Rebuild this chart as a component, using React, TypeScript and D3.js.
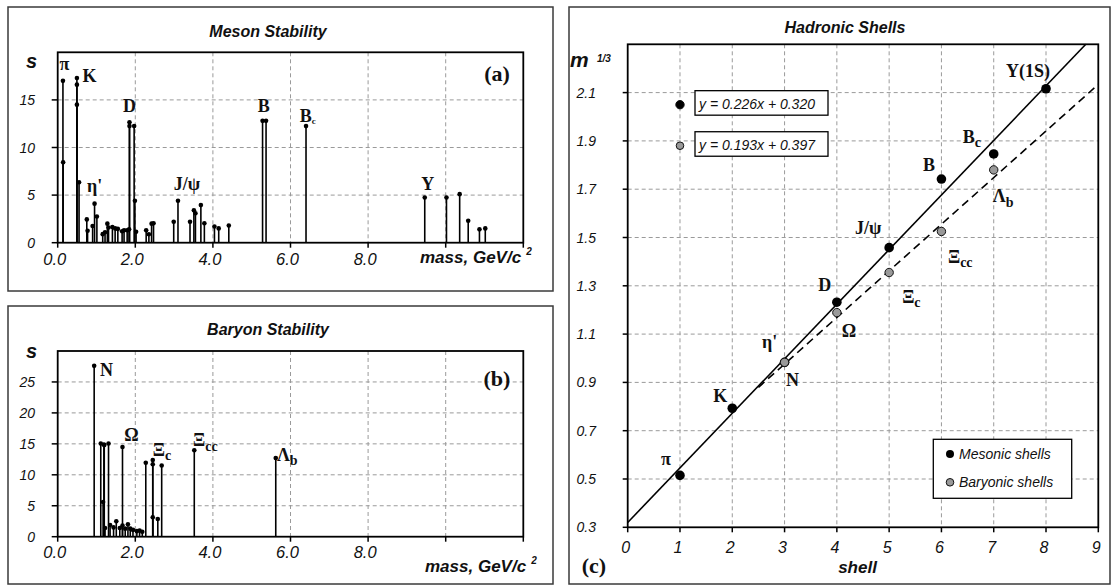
import React from "react";
import * as d3 from "d3";

// ---------- DATA ----------
// Panel (a): meson stability s vs mass (GeV/c^2)
const mesonMass = [0.135, 0.14, 0.495, 0.495, 0.495, 0.55, 0.75, 0.77, 0.9, 0.95, 1.01, 1.16, 1.22, 1.28, 1.31, 1.41, 1.48, 1.55, 1.66, 1.71, 1.79, 1.84, 1.85, 1.85, 1.97, 1.99, 2.02, 2.28, 2.35, 2.42, 2.47, 2.99, 3.1, 3.41, 3.51, 3.55, 3.69, 3.78, 4.04, 4.15, 4.41, 5.28, 5.37, 6.4, 9.46, 10.02, 10.36, 10.58, 10.87, 11.02];
const mesonS = [17.0, 8.45, 17.3, 16.6, 14.5, 6.35, 2.45, 1.25, 1.75, 4.1, 2.75, 0.9, 1.1, 2.0, 1.6, 1.65, 1.5, 1.45, 1.2, 1.3, 1.3, 1.4, 12.65, 12.25, 12.25, 4.4, 1.15, 1.3, 0.88, 2.0, 2.05, 2.2, 4.4, 2.2, 3.4, 3.1, 3.95, 2.05, 1.7, 1.5, 1.8, 12.8, 12.8, 12.25, 4.75, 4.75, 5.1, 2.3, 1.4, 1.5];

// Panel (b): baryon stability s vs mass
const baryonMass = [0.94, 1.11, 1.17, 1.19, 1.2, 1.31, 1.67, 1.22, 1.35, 1.44, 1.51, 1.6, 1.67, 1.74, 1.81, 1.87, 1.94, 2.04, 2.11, 2.18, 2.27, 2.45, 2.45, 2.45, 2.58, 2.68, 3.52, 5.62];
const baryonS = [27.6, 15.05, 5.6, 14.9, 14.8, 15.05, 14.5, 1.4, 1.9, 1.5, 2.5, 1.4, 1.8, 1.3, 2.0, 1.3, 1.1, 0.9, 1.0, 0.8, 11.95, 12.4, 11.7, 3.15, 2.87, 11.5, 13.96, 12.7];

// Panel (c): hadronic shells
const mesonShell = [1, 2, 3, 4, 5, 6, 7, 8];
const mesonM13 = [0.515, 0.793, 0.983, 1.232, 1.458, 1.742, 1.846, 2.116];
const baryonShell = [3, 4, 5, 6, 7];
const baryonM13 = [0.983, 1.189, 1.355, 1.525, 1.78];
const fitSlope = [0.226, 0.193];
const fitIntercept = [0.32, 0.397];
const fitLabels = ["y = 0.226x + 0.320", "y = 0.193x + 0.397"];

// Tick values
const stemXTicks = [0, 2, 4, 6, 8, 10, 12];
const stemXLabels = ["0.0", "2.0", "4.0", "6.0", "8.0"];
const aYTicks = [0, 5, 10, 15];
const bYTicks = [0, 5, 10, 15, 20, 25];
const cXTicks = [0, 1, 2, 3, 4, 5, 6, 7, 8, 9];
const cYTicks = [0.3, 0.5, 0.7, 0.9, 1.1, 1.3, 1.5, 1.7, 1.9, 2.1];

// Annotations (data coordinates)
const aLabels = [
  { t: "π", sub: "", m: 0.175, s: 18.14, a: "middle" },
  { t: "K", sub: "", m: 0.82, s: 16.9, a: "middle" },
  { t: "D", sub: "", m: 1.85, s: 13.76, a: "middle" },
  { t: "η'", sub: "", m: 0.95, s: 5.33, a: "middle" },
  { t: "J/ψ", sub: "", m: 3.33, s: 5.5, a: "middle" },
  { t: "B", sub: "", m: 5.31, s: 13.76, a: "middle" },
  { t: "B", sub: "c", m: 6.24, s: 12.7, a: "start" },
  { t: "Y", sub: "", m: 9.54, s: 5.54, a: "middle" },
];
const bLabels = [
  { t: "N", sub: "", m: 1.09, s: 25.9, a: "start" },
  { t: "Ω", sub: "", m: 1.9, s: 15.4, a: "middle" },
  { t: "Ξ", sub: "c", m: 2.45, s: 13.0, a: "start" },
  { t: "Ξ", sub: "cc", m: 3.49, s: 14.6, a: "start" },
  { t: "Λ", sub: "b", m: 5.65, s: 12.3, a: "start" },
];
// Panel (c) point labels: shell, value, and pixel offset
const cLabels = [
  { t: "π", sub: "", x: 1, v: 0.515, dx: -14, dy: -10, a: "middle" },
  { t: "K", sub: "", x: 2, v: 0.793, dx: -12, dy: -6, a: "middle" },
  { t: "η'", sub: "", x: 3, v: 0.983, dx: -15, dy: -14, a: "middle" },
  { t: "N", sub: "", x: 3, v: 0.983, dx: 8, dy: 24, a: "middle" },
  { t: "D", sub: "", x: 4, v: 1.232, dx: -12, dy: -11, a: "middle" },
  { t: "Ω", sub: "", x: 4, v: 1.189, dx: 12, dy: 24, a: "middle" },
  { t: "J/ψ", sub: "", x: 5, v: 1.458, dx: -21, dy: -14, a: "middle" },
  { t: "Ξ", sub: "c", x: 5, v: 1.355, dx: 13, dy: 30, a: "start" },
  { t: "B", sub: "", x: 6, v: 1.742, dx: -12.5, dy: -8, a: "middle" },
  { t: "Ξ", sub: "cc", x: 6, v: 1.525, dx: 6.5, dy: 31.5, a: "start" },
  { t: "B", sub: "c", x: 7, v: 1.846, dx: -31, dy: -11, a: "start" },
  { t: "Λ", sub: "b", x: 7, v: 1.78, dx: -1, dy: 32.5, a: "start" },
  { t: "Y(1S)", sub: "", x: 8, v: 2.116, dx: -18, dy: -12, a: "middle" },
];

// ---------- STYLE ----------
const SANS = "Arial, 'Liberation Sans', Helvetica, sans-serif";
const SERIF = "'Times New Roman', 'Liberation Serif', Times, serif";
const GRID = "#9a9a9a";
const DASH = "4,3";
const FRAME = "#3a3a3a";

type Lbl = { t: string; sub: string; a: string };

function SymLabel({ l, x, y, size, subSize }: { l: Lbl; x: number; y: number; size: number; subSize: number }) {
  return (
    <text x={x} y={y} textAnchor={l.a as any} fontFamily={SERIF} fontWeight="bold" fontSize={size} fill="#111">
      <tspan>{l.t}</tspan>
      {l.sub ? (
        <tspan dy={subSize * 0.3} fontSize={subSize}>
          {l.sub}
        </tspan>
      ) : null}
    </text>
  );
}

function StemPanel(props: {
  box: [number, number, number, number];
  yTop: number;
  yBottom: number;
  yMax: number;
  yTicks: number[];
  masses: number[];
  values: number[];
  title: string;
  titleY: number;
  sY: number;
  tag: string;
  tagY: number;
  tickLabelY: number;
  massX: number;
  massY: number;
  labels: (Lbl & { m: number; s: number })[];
}) {
  const { box, yTop, yBottom, yMax, yTicks, masses, values } = props;
  const x = d3.scaleLinear().domain([0, 12]).range([57.7, 523.3]);
  const y = d3.scaleLinear().domain([0, yMax]).range([yBottom, yTop]);
  const [bx, by, bw, bh] = box;
  const idx = d3.range(masses.length);
  return (
    <g>
      <rect x={bx} y={by} width={bw} height={bh} fill="white" stroke={FRAME} strokeWidth={1.5} />
      <text x={268} y={props.titleY} textAnchor="middle" fontFamily={SANS} fontWeight="bold" fontStyle="italic" fontSize={16} fill="#111">
        {props.title}
      </text>
      {/* grid */}
      {[2, 4, 6, 8, 10].map((v) => (
        <line key={"gx" + v} x1={x(v)} x2={x(v)} y1={yTop} y2={yBottom} stroke={GRID} strokeDasharray={DASH} strokeWidth={1} />
      ))}
      {yTicks.filter((v) => v > 0).map((v) => (
        <line key={"gy" + v} x1={x(0)} x2={x(12)} y1={y(v)} y2={y(v)} stroke={GRID} strokeDasharray={DASH} strokeWidth={1} />
      ))}
      {/* stems */}
      {idx.map((i) => (
        <line key={"st" + i} x1={x(masses[i])} x2={x(masses[i])} y1={y(0)} y2={y(values[i])} stroke="#000" strokeWidth={1.6} />
      ))}
      {idx.map((i) => (
        <circle key={"dt" + i} cx={x(masses[i])} cy={y(values[i])} r={2.3} fill="#000" />
      ))}
      {/* frame */}
      <rect x={x(0)} y={yTop} width={x(12) - x(0)} height={yBottom - yTop} fill="none" stroke="#000" strokeWidth={1.8} />
      {/* ticks */}
      {yTicks.map((v) => (
        <g key={"ty" + v}>
          <line x1={x(0) - 6} x2={x(0)} y1={y(v)} y2={y(v)} stroke="#000" strokeWidth={1.5} />
          <text x={35} y={y(v)} dy="0.36em" textAnchor="end" fontFamily={SANS} fontStyle="italic" fontSize={14} fill="#111">
            {v}
          </text>
        </g>
      ))}
      {stemXTicks.map((v) => (
        <line key={"tx" + v} x1={x(v)} x2={x(v)} y1={yBottom} y2={yBottom + 5} stroke="#000" strokeWidth={1.5} />
      ))}
      {stemXLabels.map((s, i) => (
        <text key={"lx" + i} x={x(stemXTicks[i]) - 3} y={props.tickLabelY} textAnchor="middle" fontFamily={SANS} fontStyle="italic" fontSize={16.5} fill="#111">
          {s}
        </text>
      ))}
      <text x={props.massX} y={props.massY} fontFamily={SANS} fontWeight="bold" fontStyle="italic" fontSize={17} fill="#111">
        mass, GeV/c
        <tspan dx={5} dy={-8} fontSize={10}>
          2
        </tspan>
      </text>
      <text x={26} y={props.sY} fontFamily={SANS} fontWeight="bold" fontStyle="italic" fontSize={20} fill="#111">
        s
      </text>
      <text x={497} y={props.tagY} textAnchor="middle" fontFamily={SERIF} fontWeight="bold" fontSize={22} fill="#111">
        {props.tag}
      </text>
      {props.labels.map((l, i) => (
        <SymLabel key={"lab" + i} l={l} x={x(l.m)} y={y(l.s)} size={18} subSize={l.t === "B" ? 9 : 14} />
      ))}
    </g>
  );
}

function ShellPanel() {
  const x = d3.scaleLinear().domain([0, 9]).range([627.7, 1098.3]);
  const y = d3.scaleLinear().domain([0.3, 2.3]).range([527.3, 44.3]);
  const solidEnd = (2.3 - fitIntercept[0]) / fitSlope[0];
  const solid = d3.line<number>().x((s) => x(s)).y((s) => y(fitSlope[0] * s + fitIntercept[0]))([0, solidEnd]);
  const dashed = d3.line<number>().x((s) => x(s)).y((s) => y(fitSlope[1] * s + fitIntercept[1]))([2.5, 9]);
  const eqY = [2.05, 1.88];
  return (
    <g>
      <rect x={569} y={7} width={541} height={577} fill="white" stroke={FRAME} strokeWidth={1.5} />
      <text x={845} y={33} textAnchor="middle" fontFamily={SANS} fontWeight="bold" fontStyle="italic" fontSize={16} fill="#111">
        Hadronic Shells
      </text>
      {cXTicks.filter((v) => v > 0 && v < 9).map((v) => (
        <line key={"gx" + v} x1={x(v)} x2={x(v)} y1={y(2.3)} y2={y(0.3)} stroke={GRID} strokeDasharray={DASH} />
      ))}
      {cYTicks.filter((v) => v > 0.3).map((v) => (
        <line key={"gy" + v} x1={x(0)} x2={x(9)} y1={y(v)} y2={y(v)} stroke={GRID} strokeDasharray={DASH} />
      ))}
      <path d={solid || ""} fill="none" stroke="#000" strokeWidth={1.6} />
      <path d={dashed || ""} fill="none" stroke="#000" strokeWidth={1.6} strokeDasharray="8,5" />
      <rect x={x(0)} y={y(2.3)} width={x(9) - x(0)} height={y(0.3) - y(2.3)} fill="none" stroke="#000" strokeWidth={1.8} />
      {cYTicks.map((v) => (
        <g key={"ty" + v}>
          <line x1={x(0) - 5} x2={x(0)} y1={y(v)} y2={y(v)} stroke="#000" strokeWidth={1.5} />
          <text x={596} y={y(v)} dy="0.36em" textAnchor="end" fontFamily={SANS} fontStyle="italic" fontSize={14} fill="#111">
            {v.toFixed(1)}
          </text>
        </g>
      ))}
      {cXTicks.map((v) => (
        <g key={"tx" + v}>
          <line x1={x(v)} x2={x(v)} y1={y(0.3)} y2={y(0.3) + 5} stroke="#000" strokeWidth={1.5} />
          <text x={x(v) - 2} y={553} textAnchor="middle" fontFamily={SANS} fontStyle="italic" fontSize={16} fill="#111">
            {v}
          </text>
        </g>
      ))}
      {/* points */}
      {mesonShell.map((s, i) => (
        <circle key={"m" + i} cx={x(s)} cy={y(mesonM13[i])} r={4.8} fill="#000" />
      ))}
      {baryonShell.map((s, i) => (
        <circle key={"b" + i} cx={x(s)} cy={y(baryonM13[i])} r={4.2} fill="#999" stroke="#111" strokeWidth={1} />
      ))}
      {/* equation boxes */}
      {fitLabels.map((t, i) => (
        <g key={"eq" + i}>
          <circle cx={x(1)} cy={y(eqY[i])} r={i === 0 ? 4.2 : 3.8} fill={i === 0 ? "#000" : "#999"} stroke="#111" strokeWidth={1} />
          <rect x={695} y={y(eqY[i]) - 14} width={133} height={24.5} fill="white" stroke="#000" strokeWidth={1.3} />
          <text x={699} y={y(eqY[i]) + 4.5} fontFamily={SANS} fontStyle="italic" fontSize={14} fill="#111">
            {t}
          </text>
        </g>
      ))}
      {/* legend */}
      <rect x={933.3} y={439.3} width={138.4} height={59} fill="white" stroke="#000" strokeWidth={1.3} />
      <circle cx={950} cy={454} r={4} fill="#000" />
      <circle cx={950} cy={482.3} r={3.8} fill="#999" stroke="#111" strokeWidth={1} />
      <text x={959} y={459} fontFamily={SANS} fontStyle="italic" fontSize={14} fill="#111">Mesonic shells</text>
      <text x={959} y={487.3} fontFamily={SANS} fontStyle="italic" fontSize={14} fill="#111">Baryonic shells</text>
      {/* point labels */}
      {cLabels.map((l, i) => (
        <SymLabel key={"cl" + i} l={l} x={x(l.x) + l.dx} y={y(l.v) + l.dy} size={18} subSize={14} />
      ))}
      {/* axis titles */}
      <text x={570} y={67} fontFamily={SANS} fontWeight="bold" fontStyle="italic" fontSize={21} fill="#111">m</text>
      <text x={597} y={61.5} fontFamily={SANS} fontWeight="bold" fontStyle="italic" fontSize={10} fill="#111">1/3</text>
      <text x={857.5} y={573} textAnchor="middle" fontFamily={SANS} fontWeight="bold" fontStyle="italic" fontSize={17} fill="#111">shell</text>
      <text x={594} y={573} textAnchor="middle" fontFamily={SERIF} fontWeight="bold" fontSize={22} fill="#111">(c)</text>
    </g>
  );
}

export default function App() {
  return (
    <svg width={1113} height={587} viewBox="0 0 1113 587" style={{ position: "absolute", left: 0, top: 0, background: "white" }}>
      <rect x={0} y={0} width={1113} height={587} fill="white" />
      <StemPanel
        box={[8, 7, 545, 284]}
        yTop={52.3}
        yBottom={242.7}
        yMax={20}
        yTicks={aYTicks}
        masses={mesonMass}
        values={mesonS}
        title="Meson Stability"
        titleY={36.5}
        sY={68}
        tag="(a)"
        tagY={81}
        tickLabelY={265}
        massX={420}
        massY={263}
        labels={aLabels}
      />
      <StemPanel
        box={[8, 306, 545, 278]}
        yTop={351}
        yBottom={536.7}
        yMax={30}
        yTicks={bYTicks}
        masses={baryonMass}
        values={baryonS}
        title="Baryon Stability"
        titleY={335}
        sY={358}
        tag="(b)"
        tagY={386}
        tickLabelY={558}
        massX={425}
        massY={571.7}
        labels={bLabels}
      />
      <ShellPanel />
    </svg>
  );
}
